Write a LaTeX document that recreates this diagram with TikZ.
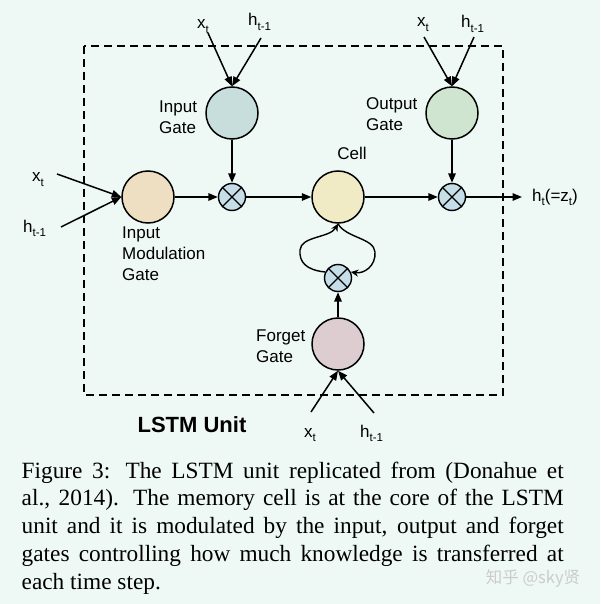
\documentclass[tikz,border=0pt]{standalone}
\usepackage{fontspec}
\setmainfont{Liberation Serif}
\newfontfamily\arialf{Liberation Sans}
\newfontfamily\cjkf{Noto Sans CJK SC}
\usetikzlibrary{arrows.meta}
\definecolor{bgc}{HTML}{EEF8F5}
\definecolor{igc}{HTML}{C8DEDC}
\definecolor{mgc}{HTML}{EEDFC2}
\definecolor{cellc}{HTML}{F0EBC5}
\definecolor{ogc}{HTML}{CFE5CF}
\definecolor{fgc}{HTML}{DDCDD1}
\definecolor{multc}{HTML}{C5DEE8}
\newcommand{\lsub}[1]{\raisebox{-0.5ex}{\fontsize{11.5}{11.5}\selectfont #1}}
\begin{document}
\begin{tikzpicture}[x=1pt,y=-1pt,
  lbl/.style={font=\arialf\fontsize{17}{21}\selectfont, inner sep=0pt, align=left},
  inlbl/.style={font=\arialf\fontsize{17}{21}\selectfont, inner sep=0pt, anchor=base west},
  gate/.style={circle, draw=black, line width=1.5pt, minimum size=52pt, inner sep=0pt},
  mult/.style={circle, draw=black, line width=1.4pt, minimum size=27pt, inner sep=0pt, fill=multc,
    path picture={\draw[line width=1.4pt] (path picture bounding box.north west) -- (path picture bounding box.south east)
      (path picture bounding box.north east) -- (path picture bounding box.south west);}},
  arr/.style={line width=1.5pt, -{Triangle[length=9.5pt,width=7.5pt]}},
  looparr/.style={line width=1.4pt, -{Stealth[length=7.5pt,width=7pt]}},
  unitbox/.style={line width=1.5pt, dash pattern=on 8pt off 5pt}
]
\useasboundingbox (0,0) rectangle (600,604);
\fill[bgc] (0,0) rectangle (600,604);

% dashed unit box
\draw[unitbox] (84,46) rectangle (503,395);

% gates
\node[gate, fill=igc] (ig) at (232,113) {};
\node[gate, fill=ogc] (og) at (452,113) {};
\node[gate, fill=mgc] (mg) at (148,197) {};
\node[gate, fill=cellc] (cell) at (338,197) {};
\node[gate, fill=fgc] (fg) at (338,344) {};
\node[mult] (im) at (232,197) {};
\node[mult] (om) at (452,197) {};
\node[mult] (fm) at (338,278) {};

% gate labels
\node[lbl, anchor=west] (igl) at (159,117) {Input\\Gate};
\node[lbl, anchor=west] (ogl) at (366,114) {Output\\Gate};
\node[lbl] (celll) at (352,153) {Cell};
\node[lbl, anchor=west] (mgl) at (122,254) {Input\\Modulation\\Gate};
\node[lbl, anchor=west] (fgl) at (256,346) {Forget\\Gate};
\node[font=\arialf\bfseries\fontsize{22}{26}\selectfont, inner sep=0pt] (unit) at (192,425) {LSTM Unit};

% input labels
\node[inlbl] (x1) at (197,29) {x\lsub{t}};
\node[inlbl] (h1) at (248,26) {h\lsub{t-1}};
\node[inlbl] (x2) at (417,27) {x\lsub{t}};
\node[inlbl] (h2) at (461,28) {h\lsub{t-1}};
\node[inlbl] (x3) at (32,182) {x\lsub{t}};
\node[inlbl] (h3) at (23,232) {h\lsub{t-1}};
\node[inlbl] (x4) at (304,437) {x\lsub{t}};
\node[inlbl] (h4) at (360,437) {h\lsub{t-1}};
\node[inlbl] (hout) at (532,201) {h\lsub{t}(=z\lsub{t})};

% free ends
\coordinate (x1s) at (208,33);
\coordinate (h1s) at (261,38);
\coordinate (x2s) at (424,37);
\coordinate (h2s) at (474,37);
\coordinate (x3s) at (57,174);
\coordinate (h3s) at (61,227);
\coordinate (x4s) at (311,412);
\coordinate (h4s) at (374,413);
\coordinate (outend) at (522,197);

% input arrows
\draw[arr] (x1s) -- (ig.north);
\draw[arr] (h1s) -- (ig.north);
\draw[arr] (x2s) -- (og.north);
\draw[arr] (h2s) -- (og.north);
\draw[arr] (x3s) -- (mg.west);
\draw[arr] (h3s) -- (mg.west);
\draw[arr] (x4s) -- (fg.south);
\draw[arr] (h4s) -- (fg.south);

% internal arrows
\draw[arr] (mg) -- (im);
\draw[arr] (ig) -- (im);
\draw[arr] (im) -- (cell);
\draw[arr] (cell) -- (om);
\draw[arr] (og) -- (om);
\draw[arr] (om.east) -- (outend);
\draw[arr] (fg) -- (fm);

% cell loop
\draw[looparr] (fm.155) .. controls (306,270) and (299,262) .. (300,250)
  .. controls (301,236) and (330,238) .. (cell.south);
\draw[looparr] (cell.south) .. controls (346,238) and (374,238) .. (375,252)
  .. controls (376,266) and (364,274) .. (fm.25);

% caption
\node[anchor=base west, text width=542pt, align=justify, inner sep=0pt,
  font=\fontsize{23.3}{27.8}\selectfont] (cap) at (21.5,478)
  {Figure 3: The LSTM unit replicated from (Donahue et\linebreak
   al., 2014). The memory cell is at the core of the LSTM\linebreak
   unit and it is modulated by the input, output and forget\linebreak
   gates controlling how much knowledge is transferred at\linebreak
   each time step.};

% watermark
\node[font=\cjkf\fontsize{16.5}{16.5}\selectfont, text=gray!40, inner sep=0pt] (wm) at (533,578) {知乎 @sky贤};
\end{tikzpicture}
\end{document}
